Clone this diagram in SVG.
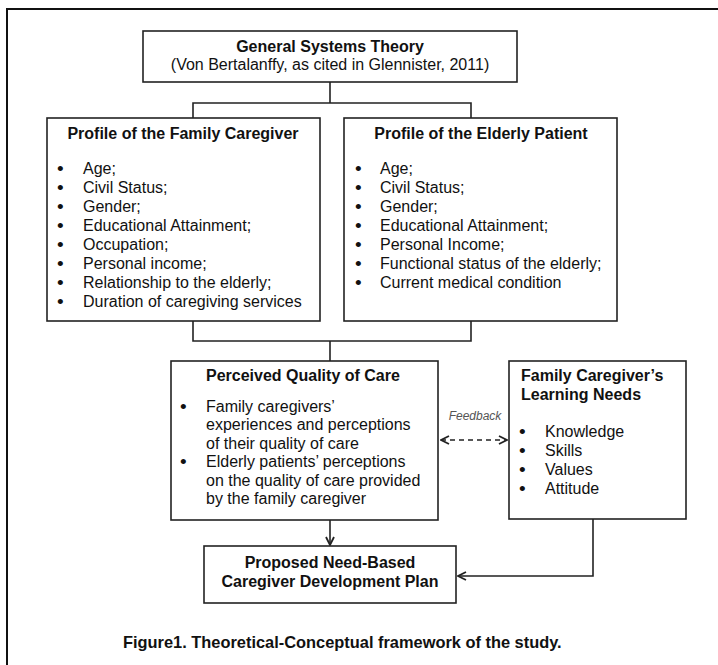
<svg xmlns="http://www.w3.org/2000/svg" width="718" height="665" viewBox="0 0 718 665">
<style>
text{font-family:"Liberation Sans",Arial,sans-serif;font-size:16px;fill:#111}
.b{font-weight:bold}
.c{text-anchor:middle}
.box{fill:#fff;stroke:#222;stroke-width:1.6}
.ln{fill:none;stroke:#222;stroke-width:1.6}
.fb{font-size:12px;font-style:italic;fill:#555}
.bu{font-size:19px}
</style>
<defs>
<marker id="ah" viewBox="0 0 10 10" refX="9" refY="5" markerWidth="10" markerHeight="10" markerUnits="userSpaceOnUse" orient="auto-start-reverse">
<path d="M1,1 L9,5 L1,9" fill="none" stroke="#222" stroke-width="1.8"/>
</marker>
</defs>
<rect x="0" y="0" width="718" height="665" fill="#fff"/>
<rect x="7" y="9" width="730" height="680" fill="none" stroke="#111" stroke-width="2"/>

<g id="connectors">
<path class="ln" d="M330,82 V103 M193,118 V103 H471 V118"/>
<path class="ln" d="M193,321 V341 H471 V321 M330,341 V361"/>
<path class="ln" d="M330,520 V545" marker-end="url(#ah)"/>
<path class="ln" d="M441,440 H507" stroke-dasharray="5,4" marker-start="url(#ah)" marker-end="url(#ah)"/>
<path class="ln" d="M593,519 V576 H458" marker-end="url(#ah)"/>
<text class="fb c" x="475" y="420">Feedback</text>
</g>

<g id="theory">
<rect class="box" x="143" y="31" width="374" height="51"/>
<text class="b c" x="330" y="52">General Systems Theory</text>
<text class="c" x="330" y="70">(Von Bertalanffy, as cited in Glennister, 2011)</text>
</g>

<g id="caregiver-profile">
<rect class="box" x="47" y="118" width="273" height="203"/>
<text class="b c" x="183" y="139">Profile of the Family Caregiver</text>
<g>
<text class="bu" x="57" y="175">•</text><text x="83" y="174">Age;</text>
<text class="bu" x="57" y="194">•</text><text x="83" y="193">Civil Status;</text>
<text class="bu" x="57" y="213">•</text><text x="83" y="212">Gender;</text>
<text class="bu" x="57" y="232">•</text><text x="83" y="231">Educational Attainment;</text>
<text class="bu" x="57" y="251">•</text><text x="83" y="250">Occupation;</text>
<text class="bu" x="57" y="270">•</text><text x="83" y="269">Personal income;</text>
<text class="bu" x="57" y="289">•</text><text x="83" y="288">Relationship to the elderly;</text>
<text class="bu" x="57" y="308">•</text><text x="83" y="307">Duration of caregiving services</text>
</g>
</g>

<g id="patient-profile">
<rect class="box" x="344" y="118" width="273" height="203"/>
<text class="b c" x="481" y="139">Profile of the Elderly Patient</text>
<g>
<text class="bu" x="355" y="175">•</text><text x="380" y="174">Age;</text>
<text class="bu" x="355" y="194">•</text><text x="380" y="193">Civil Status;</text>
<text class="bu" x="355" y="213">•</text><text x="380" y="212">Gender;</text>
<text class="bu" x="355" y="232">•</text><text x="380" y="231">Educational Attainment;</text>
<text class="bu" x="355" y="251">•</text><text x="380" y="250">Personal Income;</text>
<text class="bu" x="355" y="270">•</text><text x="380" y="269">Functional status of the elderly;</text>
<text class="bu" x="355" y="289">•</text><text x="380" y="288">Current medical condition</text>
</g>
</g>

<g id="quality-of-care">
<rect class="box" x="171" y="361" width="267" height="159"/>
<text class="b" x="206" y="381">Perceived Quality of Care</text>
<text class="bu" x="180" y="413">•</text><text x="206" y="412">Family caregivers’</text>
<text x="206" y="430.4">experiences and perceptions</text>
<text x="206" y="448.8">of their quality of care</text>
<text class="bu" x="180" y="468.2">•</text><text x="206" y="467.2">Elderly patients’ perceptions</text>
<text x="206" y="485.6">on the quality of care provided</text>
<text x="206" y="504">by the family caregiver</text>
</g>

<g id="learning-needs">
<rect class="box" x="509" y="361" width="177" height="158"/>
<text class="b" x="521" y="381">Family Caregiver’s</text>
<text class="b" x="521" y="400">Learning Needs</text>
<text class="bu" x="519" y="438">•</text><text x="545" y="437">Knowledge</text>
<text class="bu" x="519" y="457">•</text><text x="545" y="456">Skills</text>
<text class="bu" x="519" y="476">•</text><text x="545" y="475">Values</text>
<text class="bu" x="519" y="495">•</text><text x="545" y="494">Attitude</text>
</g>

<g id="development-plan">
<rect class="box" x="204" y="546" width="252" height="57"/>
<text class="b c" x="330" y="568">Proposed Need-Based</text>
<text class="b c" x="330" y="587">Caregiver Development Plan</text>
</g>

<text class="b" x="123" y="648" style="font-size:16.4px">Figure1. Theoretical-Conceptual framework of the study.</text>
</svg>
